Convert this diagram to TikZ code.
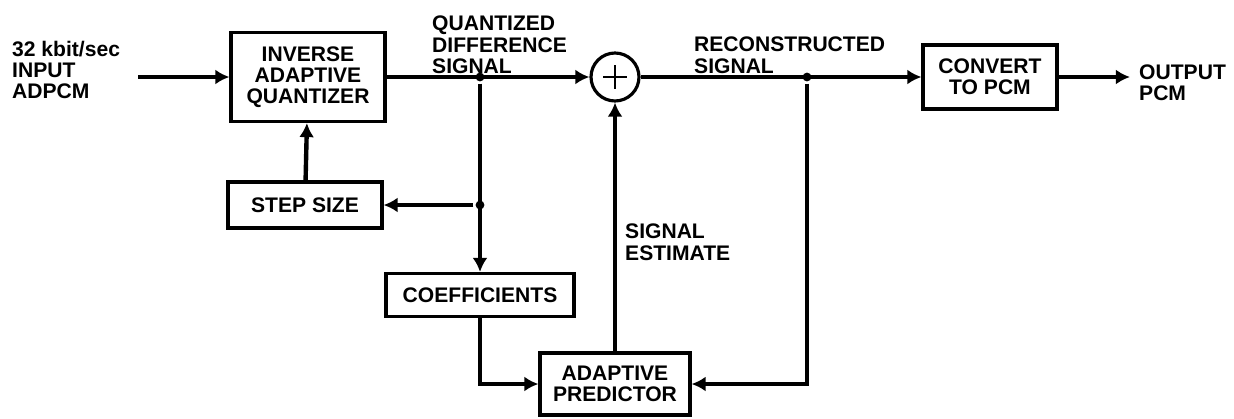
\documentclass[tikz,border=0pt]{standalone}
\usepackage{fontspec}
\setsansfont{Liberation Sans}
\usetikzlibrary{arrows.meta}

\begin{document}
\begin{tikzpicture}[
		x=0.02cm, y=-0.02cm,
		>={Latex[length=8pt,width=8.5pt]}, line width=2.5pt,
		lettering/.style={font=\sffamily\bfseries\fontsize{12}{12}\selectfont},
		block/.style={draw,line width=1.8pt,align=center,inner sep=2pt,lettering}, % boxed stage
		lbl/.style={align=left,inner sep=0pt,lettering}, % free text
		tap/.style={circle,fill,inner sep=0pt,minimum size=5pt}, % branch point
	]
	\useasboundingbox (0,0) rectangle (1234,419);

	% --- blocks and the summing junction
	\node[block,minimum width=3.08cm,minimum height=1.78cm] (iaq) at (308,77) {INVERSE\\ADAPTIVE\\QUANTIZER};
	\node[block,minimum width=3.08cm,minimum height=0.92cm] (stepsz) at (305,205) {STEP SIZE};
	\node[block,minimum width=3.76cm,minimum height=0.86cm] (coef) at (480,295) {COEFFICIENTS};
	\node[block,minimum width=3.0cm,minimum height=1.24cm] (pred) at (615,384) {ADAPTIVE\\PREDICTOR};
	\node[draw,circle,line width=1.8pt,minimum size=0.96cm,inner sep=0pt] (sum) at (615,77) {};
	\draw[line width=1.6pt] (sum.center) ++(0,-12) -- ++(0,24) (sum.center) ++(-12,0) -- ++(24,0);
	\node[block,minimum width=2.68cm,minimum height=1.28cm] (conv) at (990,77) {CONVERT\\TO PCM};

	% --- branch points and free ends
	\node[tap] (j1) at (480,77) {};
	\node[tap] (j2) at (480,205) {};
	\node[tap] (j3) at (807,77) {};
	\coordinate (inp) at (138,77);
	\coordinate (outp) at (1130,77);

	% --- text
	\node[lbl,anchor=west] (tin) at (10,70) {32 kbit/sec\\INPUT\\ADPCM};
	\node[lbl,anchor=west] (tout) at (1137,83) {OUTPUT\\PCM};
	\node[lbl,anchor=north west] (tqds) at (430,14) {QUANTIZED\\DIFFERENCE\\SIGNAL};
	\node[lbl,anchor=north west] (trec) at (692,35) {RECONSTRUCTED\\SIGNAL};
	\node[lbl,anchor=north west] (test) at (623,222) {SIGNAL\\ESTIMATE};

	% --- signal path
	\draw[->] (inp) -- (iaq);
	\draw[->] (iaq) -- (sum);
	\draw[->] (sum) -- (conv);
	\draw[->] (conv) -- (outp);

	% --- adaptation and prediction
	\draw[->] (stepsz) -- (iaq);
	\draw[->] (j1) -- (coef);
	\draw[->] (j2) -- (stepsz);
	\draw[->] (coef) |- (pred);
	\draw[->] (j3) |- (pred);
	\draw[->] (pred) -- (sum);
\end{tikzpicture}
\end{document}
